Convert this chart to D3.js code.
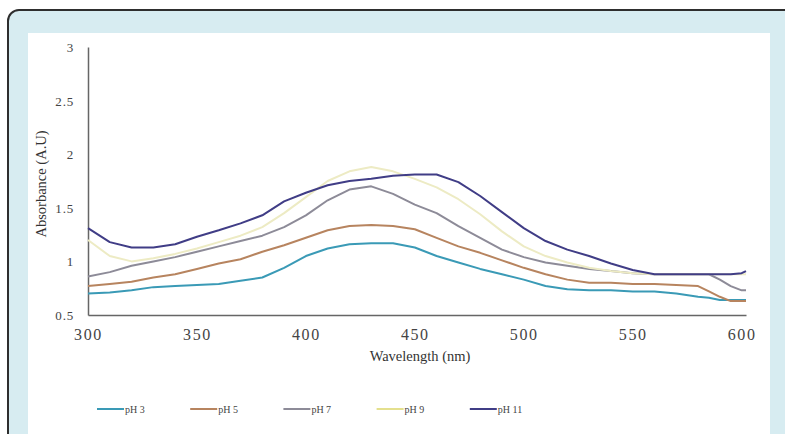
<!DOCTYPE html>
<html>
<head>
<meta charset="utf-8">
<script src="https://cdn.jsdelivr.net/npm/d3@7"></script>
<style>
  html, body { margin: 0; padding: 0; background: #fff; }
  svg { display: block; }
</style>
</head>
<body>
<div id="chart"></div>
<script>
// wavelengths (nm) shared by every series
var wavelengths = [300, 310, 320, 330, 340, 350, 360, 370, 380, 390, 400, 410, 420, 430, 440,
  450, 460, 470, 480, 490, 500, 510, 520, 530, 540, 550, 560, 570, 580, 585, 590, 595, 600, 602];

var ph3 = [0.70, 0.71, 0.73, 0.76, 0.77, 0.78, 0.79, 0.82, 0.85, 0.94, 1.05, 1.12, 1.16, 1.17, 1.17,
  1.13, 1.05, 0.99, 0.93, 0.88, 0.83, 0.77, 0.74, 0.73, 0.73, 0.72, 0.72, 0.70, 0.67, 0.66, 0.64, 0.64, 0.64, 0.64];
var ph5 = [0.77, 0.79, 0.81, 0.85, 0.88, 0.93, 0.98, 1.02, 1.09, 1.15, 1.22, 1.29, 1.33, 1.34, 1.33,
  1.30, 1.22, 1.14, 1.08, 1.01, 0.94, 0.88, 0.83, 0.80, 0.80, 0.79, 0.79, 0.78, 0.77, 0.72, 0.67, 0.63, 0.63, 0.63];
var ph7 = [0.86, 0.90, 0.96, 1.00, 1.04, 1.09, 1.14, 1.19, 1.24, 1.32, 1.43, 1.57, 1.67, 1.70, 1.63,
  1.53, 1.45, 1.33, 1.22, 1.11, 1.04, 0.99, 0.96, 0.93, 0.91, 0.89, 0.88, 0.88, 0.88, 0.88, 0.83, 0.77, 0.73, 0.73];
var ph9 = [1.20, 1.05, 1.00, 1.03, 1.07, 1.12, 1.18, 1.24, 1.32, 1.45, 1.60, 1.75, 1.84, 1.88, 1.84,
  1.77, 1.69, 1.58, 1.44, 1.28, 1.14, 1.05, 0.99, 0.94, 0.91, 0.89, 0.88, 0.88, 0.88, 0.88, 0.88, 0.88, 0.88, 0.88];
var ph11 = [1.31, 1.18, 1.13, 1.13, 1.16, 1.23, 1.29, 1.355, 1.43, 1.56, 1.64, 1.71, 1.75, 1.77, 1.80,
  1.81, 1.81, 1.74, 1.61, 1.46, 1.31, 1.19, 1.11, 1.05, 0.98, 0.92, 0.88, 0.88, 0.88, 0.88, 0.88, 0.88, 0.89, 0.91];

var seriesNames = ['pH 3', 'pH 5', 'pH 7', 'pH 9', 'pH 11'];
var seriesValues = [ph3, ph5, ph7, ph9, ph11];
var seriesColors = ['#3a9ab6', '#b7845f', '#8d8b98', '#edebc4', '#403d86'];
var legendColors = ['#3a9ab6', '#b7845f', '#8d8b98', '#e4e08e', '#403d86'];

var xTicks = [300, 350, 400, 450, 500, 550, 600];
var yTicks = [0.5, 1, 1.5, 2, 2.5, 3];

var W = 785, H = 434;

var svg = d3.select('#chart').append('svg')
    .attr('width', W)
    .attr('height', H);

// page frame: rounded panel with border, then white plotting card
svg.append('rect')
    .attr('x', 8).attr('y', 10)
    .attr('width', 820).attr('height', 480)
    .attr('rx', 11)
    .attr('fill', '#d7ecf1')
    .attr('stroke', '#2e2e2e')
    .attr('stroke-width', 2);

svg.append('rect')
    .attr('x', 28).attr('y', 33)
    .attr('width', 742).attr('height', 420)
    .attr('fill', '#fff');

var x = d3.scaleLinear().domain([300, 602]).range([88, 746]);
var y = d3.scaleLinear().domain([0.5, 3]).range([315, 47]);

var serif = '"Liberation Serif", "Times New Roman", serif';

// y axis
var yAxis = svg.append('g')
    .attr('transform', 'translate(88,0)')
    .call(d3.axisLeft(y).tickValues(yTicks).tickSize(0).tickSizeOuter(0).tickFormat(d => String(d)));
yAxis.select('.domain').attr('stroke', '#666').attr('stroke-width', 1.5);
yAxis.selectAll('text')
    .attr('x', -14)
    .attr('dy', '0.35em')
    .attr('fill', '#444')
    .style('font-family', serif)
    .style('font-size', '13px')
    .style('letter-spacing', '0.8px');

// x axis
var xAxis = svg.append('g')
    .attr('transform', 'translate(0,315)')
    .call(d3.axisBottom(x).tickValues(xTicks).tickSize(0).tickSizeOuter(0).tickFormat(d => String(d)));
xAxis.select('.domain').attr('stroke', '#666').attr('stroke-width', 1.5);
xAxis.selectAll('text')
    .attr('y', 25)
    .attr('dy', 0)
    .attr('fill', '#444')
    .style('font-family', serif)
    .style('font-size', '16px')
    .style('letter-spacing', '1.6px');

// axis titles
svg.append('text')
    .attr('x', 420).attr('y', 361)
    .attr('text-anchor', 'middle')
    .attr('fill', '#333')
    .style('font-family', serif)
    .style('font-size', '14.5px')
    .text('Wavelength (nm)');

svg.append('text')
    .attr('transform', 'translate(46,184) rotate(-90)')
    .attr('text-anchor', 'middle')
    .attr('fill', '#333')
    .style('font-family', serif)
    .style('font-size', '14.5px')
    .text('Absorbance (A.U)');

// curves
var line = d3.line()
    .x((d, i) => x(wavelengths[i]))
    .y(d => y(d));

svg.append('g').selectAll('path')
    .data(seriesValues)
    .enter().append('path')
    .attr('d', line)
    .attr('fill', 'none')
    .attr('stroke', (d, i) => seriesColors[i])
    .attr('stroke-width', 2)
    .attr('stroke-linejoin', 'round');

// legend
var legend = svg.append('g').selectAll('g')
    .data(seriesNames)
    .enter().append('g')
    .attr('transform', (d, i) => `translate(${97 + i * 93.2},409)`);

legend.append('line')
    .attr('x1', 0).attr('x2', 27)
    .attr('stroke', (d, i) => legendColors[i])
    .attr('stroke-width', 2);

legend.append('text')
    .attr('x', 28).attr('y', 3.5)
    .attr('fill', '#444')
    .style('font-family', serif)
    .style('font-size', '10px')
    .text(d => d);
</script>
</body>
</html>
